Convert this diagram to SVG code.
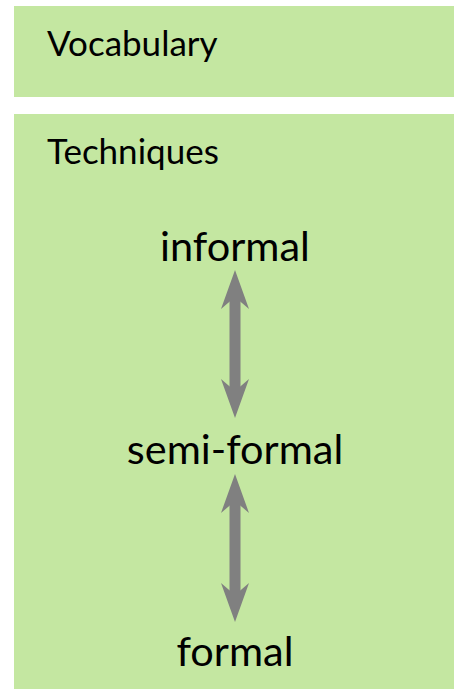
<svg xmlns="http://www.w3.org/2000/svg" width="454" height="689" viewBox="0 0 454 689">
<style>
.box{fill:#c4e7a1}
.lbl{font-family:Lato,"Open Sans","Liberation Sans",sans-serif;font-size:35px;fill:#000}
.big{font-family:Lato,"Open Sans","Liberation Sans",sans-serif;font-size:41.5px;fill:#000;text-anchor:middle}
.arr{stroke:#808080;stroke-width:11;fill:none;marker-start:url(#head);marker-end:url(#head)}
</style>
<defs>
<marker id="head" viewBox="0 0 39 28" markerWidth="39" markerHeight="28" refX="19" refY="14" orient="auto-start-reverse" markerUnits="userSpaceOnUse">
<path d="M0,0 L39,14 L0,28 L12,14 z" fill="#808080"/>
</marker>
</defs>
<g id="vocabulary">
<rect class="box" x="14" y="6" width="440" height="91"/>
<text class="lbl" x="47" y="56">Vocabulary</text>
</g>
<g id="techniques">
<rect class="box" x="14" y="114" width="440" height="575"/>
<text class="lbl" x="47" y="164">Techniques</text>
</g>
<g id="informal"><text class="big" x="235" y="261">informal</text></g>
<g id="semi-formal"><text class="big" x="235" y="464">semi-formal</text></g>
<g id="formal"><text class="big" x="235" y="666">formal</text></g>
<g id="connectors">
<line class="arr" x1="235" y1="290" x2="235" y2="398"/>
<line class="arr" x1="235" y1="494" x2="235" y2="602"/>
</g>
</svg>
